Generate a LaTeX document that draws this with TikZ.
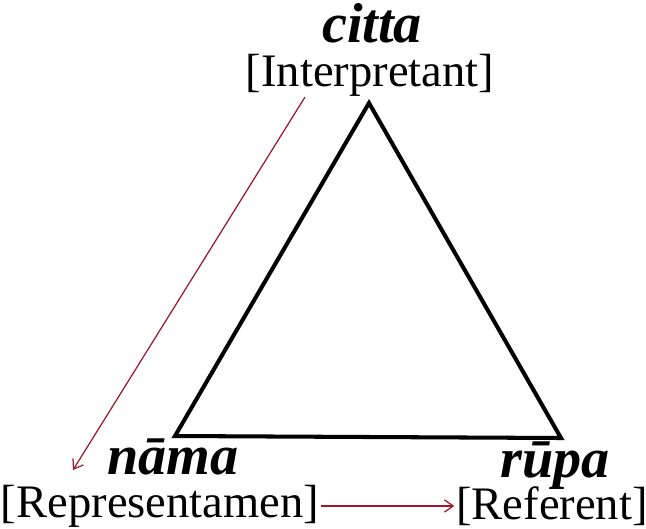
\documentclass[tikz,border=0pt]{standalone}
\usepackage{fontspec}
\setmainfont{Liberation Serif}
\usetikzlibrary{positioning,arrows.meta}
\definecolor{linkred}{RGB}{158,22,46}
\begin{document}
\begin{tikzpicture}[x=0.02cm,y=-0.02cm,line cap=butt,line join=miter,>={Straight Barb[length=5pt,width=7pt]}]
\tikzset{term/.style={font=\fontsize{32}{36}\selectfont\bfseries\itshape,inner sep=0pt},
role/.style={font=\fontsize{26.5}{30}\selectfont,inner sep=0pt},
link/.style={->,draw=linkred,line width=0.7pt}
}
\useasboundingbox (0,0) rectangle (646,528);
% triangle
\draw[line width=2.3pt] (369,103)--(175,436)--(561,438)--cycle;
% the three terms
\node[term] (citta) at (372,23) {citta};
\node[role] (interp) at (370,75) {[Interpretant]};
\node[term] (nama) at (173,457) {nāma};
\node[role] (repr) at (160,506) {[Representamen]};
\node[term] (rupa) at (555,466) {rūpa};
\node[role] (refer) at (552,506) {[Referent]};
% links
\coordinate (start) at (305,97);
\coordinate (end) at (73,470);
\draw[link] (start)--(end);
\draw[link,shorten <=1pt,shorten >=1pt] (repr.east)--(refer.west);
\end{tikzpicture}
\end{document}
